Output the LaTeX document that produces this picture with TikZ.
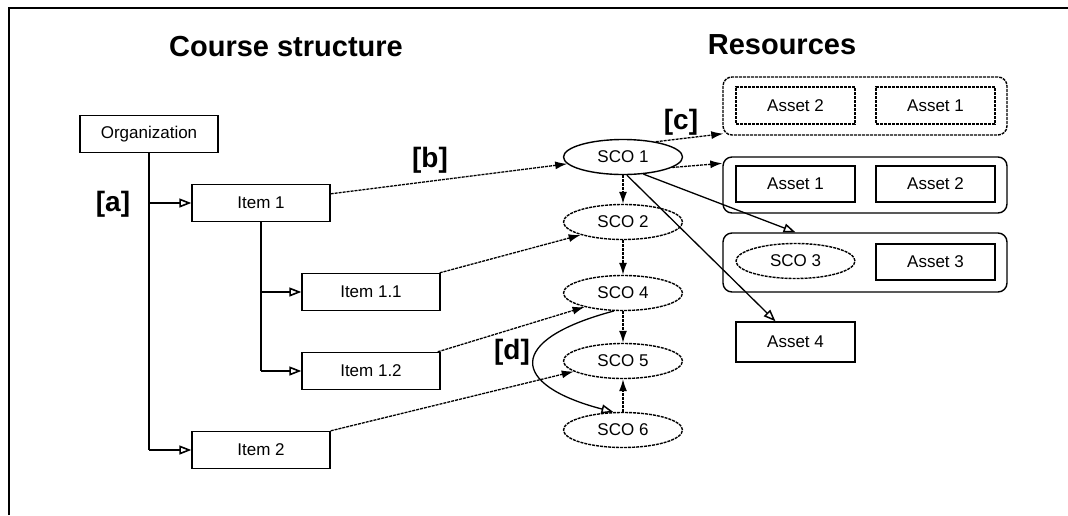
\documentclass[tikz,border=0pt]{standalone}
\usepackage{fontspec}
\setmainfont{Liberation Sans}
\usetikzlibrary{shapes.geometric,arrows.meta,calc}
\begin{document}
\begin{tikzpicture}[x=1pt,y=-1pt,
  box/.style={draw,line width=1.4pt,rectangle,minimum width=138pt,minimum height=37pt,inner sep=0pt,font=\fontsize{17}{20}\selectfont},
  abox/.style={draw,line width=1.4pt,rectangle,minimum width=119pt,minimum height=37pt,inner sep=0pt,font=\fontsize{17}{20}\selectfont},
  sco/.style={draw,line width=1.4pt,ellipse,minimum width=119pt,minimum height=35pt,inner sep=0pt,font=\fontsize{17}{20}\selectfont},
  grp/.style={draw,line width=1.4pt,rectangle,rounded corners=9pt,minimum width=284pt,inner sep=0pt},
  dsh/.style={dash pattern=on 3pt off 1pt},
  title/.style={font=\bfseries\fontsize{29}{34}\selectfont},
  lab/.style={font=\bfseries\fontsize{28}{32}\selectfont},
  tree/.style={line width=1.4pt,-{Triangle[open,length=12pt,width=9pt,line width=1.6pt]}},
  ref/.style={line width=1.3pt,dsh,-{Latex[length=12pt,width=8pt]}},
  sref/.style={line width=1.3pt,-{Triangle[open,length=12pt,width=9pt,line width=1.5pt]}}
]
\useasboundingbox (0,0) rectangle (1068,515);
% frame
\draw[line width=2pt] (9,515) -- (9,8) -- (1068,8);

% titles
\node[title] (t1) at (286,47) {Course structure};
\node[title] (t2) at (782,45) {Resources};

% course structure
\node[box] (org) at (149,134) {Organization};
\node[box] (item1) at (261,203) {Item 1};
\node[box] (item11) at (371,292) {Item 1.1};
\node[box] (item12) at (371,371) {Item 1.2};
\node[box] (item2) at (261,450) {Item 2};

\draw[line width=1.4pt] (org.south) -- (org.south |- item2.west);
\draw[tree] (org.south |- item1.west) -- (item1.west);
\draw[tree] (org.south |- item2.west) -- (item2.west);
\draw[line width=1.4pt] (item1.south) -- (item1.south |- item12.west);
\draw[tree] (item1.south |- item11.west) -- (item11.west);
\draw[tree] (item1.south |- item12.west) -- (item12.west);

% SCOs
\node[sco] (sco1) at (623,157) {SCO 1};
\node[sco,dsh] (sco2) at (623,222) {SCO 2};
\node[sco,dsh] (sco4) at (623,293) {SCO 4};
\node[sco,dsh] (sco5) at (623,361) {SCO 5};
\node[sco,dsh] (sco6) at (623,430) {SCO 6};

% resources
\node[grp,dsh,minimum height=58pt] (grp1) at (865,106) {};
\node[abox,dsh] (a12) at (795.5,105.5) {Asset 2};
\node[abox,dsh] (a11) at (935.5,105.5) {Asset 1};
\node[grp,minimum height=56pt] (grp2) at (865,185) {};
\node[abox,minimum height=36pt] (a21) at (795.5,184) {Asset 1};
\node[abox,minimum height=36pt] (a22) at (935.5,184) {Asset 2};
\node[grp,minimum height=59pt] (grp3) at (865,262.5) {};
\node[sco,dsh] (sco3) at (795.5,261) {SCO 3};
\node[abox,minimum height=36pt] (a3) at (935.5,262) {Asset 3};
\node[abox,minimum height=40pt] (a4) at (795.5,342) {Asset 4};

% references
\draw[ref] ([yshift=-10pt]item1.north east) -- (sco1.187);
\draw[ref] ([xshift=-1pt]item11.north east) -- (sco2.197);
\draw[ref] ([xshift=-3pt]item12.north east) -- (sco4.200);
\draw[ref] (item2.north east) -- (sco5.192);
\draw[ref] (sco1.south) -- (sco2.north);
\draw[ref] (sco2.south) -- (sco4.north);
\draw[ref] (sco4.south) -- (sco5.north);
\draw[ref] (sco6.north) -- (sco5.south);
\draw[sref] (sco4.243) .. controls (505,340) and (510,385) .. (sco6.118);

\draw[ref] (sco1.25) -- ([xshift=1pt,yshift=2pt]grp1.south west);
\draw[ref] (sco1.-12) -- ([yshift=-7pt]grp2.north west);
\draw[sref] (sco1.-40) -- (sco3.north |- grp3.north);
\draw[sref] (sco1.-78) -- ([xshift=-20pt]a4.north);

% labels
\node[lab] (la) at (113,204) {[a]};
\node[lab] (lb) at (430,160) {[b]};
\node[lab] (lc) at (681,122) {[c]};
\node[lab] (ld) at (512,352) {[d]};
\end{tikzpicture}
\end{document}
